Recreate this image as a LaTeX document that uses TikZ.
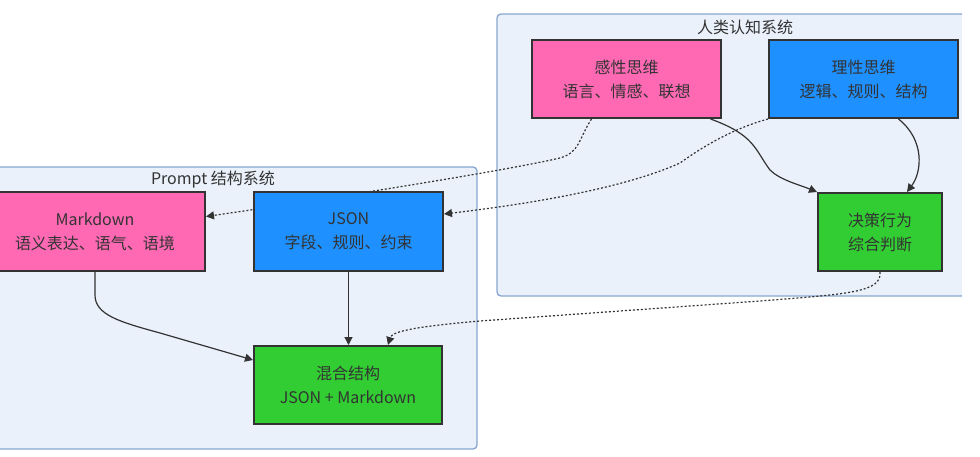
\documentclass[tikz,border=0pt]{standalone}
\usepackage{fontspec}
\setmainfont{Noto Sans CJK SC}
\usepackage{tikz}
\usetikzlibrary{arrows.meta, calc}
\definecolor{feelPink}{HTML}{FF69B4}
\definecolor{logicBlue}{HTML}{1E90FF}
\definecolor{actGreen}{HTML}{32CD32}
\definecolor{groupFill}{HTML}{EAF1FB}
\definecolor{groupLine}{HTML}{86A6CF}
\definecolor{inkGray}{HTML}{333333}
\pgfdeclarelayer{groups}
\pgfdeclarelayer{links}
\pgfsetlayers{groups,links,main}
\tikzset{
  thinkbox/.style={draw=inkGray, line width=2pt, minimum height=78pt, inner sep=0pt,
    align=center, text=inkGray, font=\fontsize{16}{24}\selectfont},
  flow/.style={-{Triangle[length=8pt,width=8pt]}, draw=inkGray, line width=1.2pt},
  hint/.style={flow, dash pattern=on 2pt off 2pt},
  grouptitle/.style={text=inkGray, font=\fontsize{16}{20}\selectfont}
}

\begin{document}
\begin{tikzpicture}[x=1pt, y=-1pt]
  \useasboundingbox (0,0) rectangle (980,457);
  \node[thinkbox, fill=feelPink, minimum width=189pt] (gx) at (626.5,79) {感性思维\\语言、情感、联想};
  \node[thinkbox, fill=logicBlue, minimum width=189pt] (lx) at (863.5,79) {理性思维\\逻辑、规则、结构};
  \node[thinkbox, fill=actGreen, minimum width=124pt] (jc) at (880,232) {决策行为\\综合判断};
  \node[thinkbox, fill=feelPink, minimum width=220pt] (md) at (95,231.5) {Markdown\\语义表达、语气、语境};
  \node[thinkbox, fill=logicBlue, minimum width=189pt] (js) at (348.5,231.5) {JSON\\字段、规则、约束};
  \node[thinkbox, fill=actGreen, minimum width=188pt] (hh) at (348,385) {混合结构\\JSON + Markdown};

  \begin{pgfonlayer}{groups}
    \filldraw[fill=groupFill, draw=groupLine, line width=1.3pt, rounded corners=4pt]
      (-51,167) rectangle (477,449);
    \fill[groupFill] (497,14) rectangle (962,296);
    \draw[groupLine, line width=1.3pt, rounded corners=4pt] (962,14) -- (497,14) -- (497,296) -- (962,296);
    \node[grouptitle] (humanTitle) at (745,27) {人类认知系统};
    \node[grouptitle] (promptTitle) at (213,180) {Prompt 结构系统};
  \end{pgfonlayer}

  \begin{pgfonlayer}{links}
    \draw[hint] ([xshift=-35pt]gx.south) .. controls (578,140) and (580,152) .. (560,158)
      .. controls (500,172) and (300,203) .. ([yshift=15pt]md.east);
    \draw[hint] (lx.south west) .. controls (735,128) and (705,145) .. (680,163)
      .. controls (620,190) and (520,205) .. ([yshift=17.5pt]js.east);
    \draw[flow] ([xshift=84pt]gx.south) .. controls (755,135) and (755,150) .. (770,170)
      .. controls (780,180) and (800,185) .. (jc.north west);
    \draw[flow] ([xshift=35pt]lx.south) .. controls (925,140) and (922,172) .. ([xshift=27pt]jc.north);
    \draw[hint] (jc.south) .. controls (882,292) and (850,294) .. (760,301) -- (480,321)
      .. controls (410,327) and (392,332) .. ([xshift=40pt]hh.north);
    \draw[flow] (md.south) -- (95,295) .. controls (95,315) and (120,322) .. (160,333)
      -- ([yshift=25pt]hh.west);
    \draw[flow] (js.south) -- (js.south |- hh.north);
  \end{pgfonlayer}
\end{tikzpicture}
\end{document}
